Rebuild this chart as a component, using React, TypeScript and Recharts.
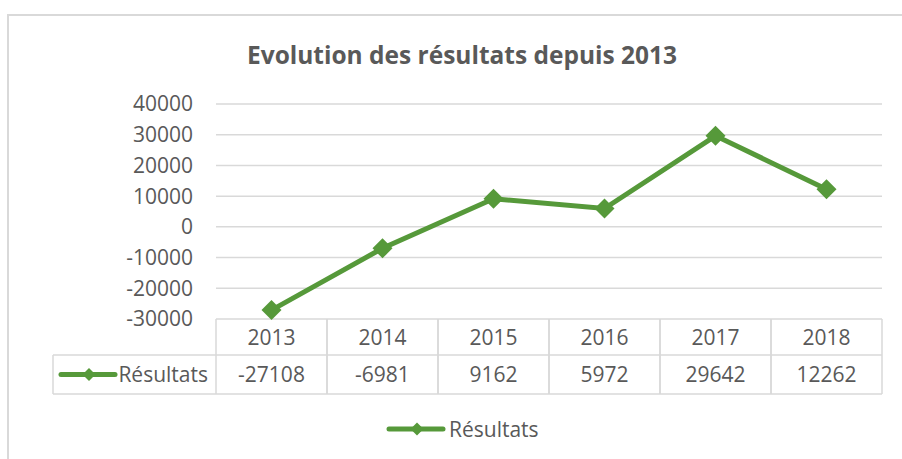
import { LineChart, Line, XAxis, YAxis, CartesianGrid } from "recharts";

const years = ["2013", "2014", "2015", "2016", "2017", "2018"];
const resultats = [-27108, -6981, 9162, 5972, 29642, 12262];
const yTicks = [-30000, -20000, -10000, 0, 10000, 20000, 30000, 40000];

const seriesName = "Résultats";
const title = "Evolution des résultats depuis 2013";

const data = years.map((year, i) => ({ year, value: resultats[i] }));

const GREEN = "#56993a";
const TEXT = "#595959";
const GRID = "#d9d9d9";
const FONT = "'Open Sans', 'Noto Sans', sans-serif";

const W = 902;
const H = 459;
const PLOT_LEFT = 216;
const PLOT_RIGHT = 882;
const ROW1 = 36;
const ROW2 = 39;
const TABLE_LEFT = 53;
const cellW = (PLOT_RIGHT - PLOT_LEFT) / years.length;

const Diamond = ({ cx, cy, r }: { cx: number; cy: number; r: number }) => (
  <path d={`M${cx},${cy - r}L${cx + r},${cy}L${cx},${cy + r}L${cx - r},${cy}Z`} fill={GREEN} />
);

const LegendKey = ({ x, y }: { x: number; y: number }) => (
  <g>
    <line x1={x} y1={y} x2={x + 54} y2={y} stroke={GREEN} strokeWidth={5} strokeLinecap="round" />
    <Diamond cx={x + 28} cy={y} r={6.5} />
  </g>
);

const TableTick = (props: any) => {
  const { x, y, payload } = props;
  const i = payload.index;
  const left = x - cellW / 2;
  const right = x + cellW / 2;
  return (
    <g>
      <line x1={left} y1={y} x2={left} y2={y + ROW1 + ROW2} stroke={GRID} strokeWidth={1.5} />
      <line x1={right} y1={y} x2={right} y2={y + ROW1 + ROW2} stroke={GRID} strokeWidth={1.5} />
      <line x1={left} y1={y + ROW1} x2={right} y2={y + ROW1} stroke={GRID} strokeWidth={1.5} />
      <line x1={left} y1={y + ROW1 + ROW2} x2={right} y2={y + ROW1 + ROW2} stroke={GRID} strokeWidth={1.5} />
      <text x={x} y={y + ROW1 / 2} dy="0.36em" textAnchor="middle" fill={TEXT} fontSize={21} fontFamily={FONT}>
        {payload.value}
      </text>
      <text x={x} y={y + ROW1 + ROW2 / 2} dy="0.36em" textAnchor="middle" fill={TEXT} fontSize={21} fontFamily={FONT}>
        {resultats[i]}
      </text>
      {i === 0 && (
        <g>
          <line x1={TABLE_LEFT} y1={y + ROW1} x2={left} y2={y + ROW1} stroke={GRID} strokeWidth={1.5} />
          <line x1={TABLE_LEFT} y1={y + ROW1 + ROW2} x2={left} y2={y + ROW1 + ROW2} stroke={GRID} strokeWidth={1.5} />
          <line x1={TABLE_LEFT} y1={y + ROW1} x2={TABLE_LEFT} y2={y + ROW1 + ROW2} stroke={GRID} strokeWidth={1.5} />
          <LegendKey x={TABLE_LEFT + 8} y={y + ROW1 + ROW2 / 2} />
          <text x={left - 8} y={y + ROW1 + ROW2 / 2} dy="0.36em" textAnchor="end" fill={TEXT} fontSize={21} fontFamily={FONT}>
            {seriesName}
          </text>
        </g>
      )}
    </g>
  );
};

const App = () => {
  return (
    <div style={{ position: "absolute", left: 0, top: 0, width: W, height: H, background: "#fff" }}>
      <div
        style={{
          position: "absolute",
          left: 7,
          top: 14,
          width: W - 7,
          height: H - 14,
          borderLeft: `2px solid ${GRID}`,
          borderTop: `2px solid ${GRID}`,
        }}
      />
      <svg style={{ position: "absolute", left: 0, top: 0 }} width={W} height={H}>
        <text
          x={462}
          y={55}
          dy="0.36em"
          textAnchor="middle"
          fill={TEXT}
          fontSize={25}
          fontWeight="bold"
          fontFamily={FONT}
          textLength={430}
          lengthAdjust="spacingAndGlyphs"
        >
          {title}
        </text>
        <LegendKey x={389} y={429} />
        <text x={449} y={429} dy="0.36em" fill={TEXT} fontSize={21} fontFamily={FONT}>
          {seriesName}
        </text>
      </svg>
      <div style={{ position: "absolute", left: 0, top: 0 }}>
        <LineChart
          width={W}
          height={H}
          data={data}
          margin={{ top: 104, right: W - PLOT_RIGHT, bottom: 65, left: 0 }}
        >
          <CartesianGrid vertical={false} stroke={GRID} strokeWidth={1.5} />
          <XAxis
            dataKey="year"
            scale="band"
            axisLine={false}
            tickLine={false}
            tickSize={0}
            tickMargin={0}
            height={ROW1 + ROW2}
            interval={0}
            tick={<TableTick />}
          />
          <YAxis
            type="number"
            domain={[-30000, 40000]}
            ticks={yTicks}
            interval={0}
            width={PLOT_LEFT}
            axisLine={false}
            tickLine={false}
            tickSize={0}
            tickMargin={23}
            tick={{ fill: TEXT, fontSize: 21, fontFamily: FONT }}
          />
          <Line
            type="linear"
            dataKey="value"
            stroke={GREEN}
            strokeWidth={5}
            dot={(p: any) => <Diamond key={p.index} cx={p.cx} cy={p.cy} r={10} />}
            activeDot={false}
            isAnimationActive={false}
          />
        </LineChart>
      </div>
    </div>
  );
};

export default App;
